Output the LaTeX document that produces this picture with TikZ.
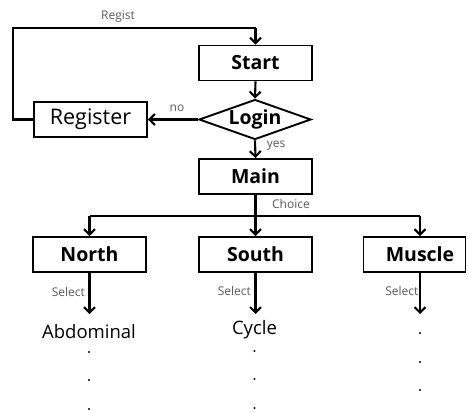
\documentclass[tikz,border=0pt]{standalone}
\usepackage{fontspec}
\setmainfont{Open Sans}
\usetikzlibrary{shapes.geometric,arrows.meta}
\begin{document}
\begin{tikzpicture}[x=1pt,y=-1pt,
  box/.style={draw,line width=1.9pt,minimum width=113pt,minimum height=35pt,inner sep=0pt,font=\fontsize{19.5}{19.5}\selectfont\bfseries},
  conn/.style={line width=2.1pt,-{Straight Barb[length=5.5pt,width=11pt,line width=2.1pt]}},
  plain/.style={line width=2.1pt},
  lbl/.style={font=\fontsize{12}{12}\selectfont,text=black!65,inner sep=0pt},
  item/.style={font=\fontsize{18.5}{18.5}\selectfont,inner sep=0pt}]
\useasboundingbox (0,0) rectangle (468,412);
\node[box] (start) at (255.5,63) {Start};
\node[draw,diamond,aspect=2.8,line width=1.9pt,minimum width=112pt,minimum height=40pt,inner sep=0pt,font=\fontsize{19.5}{19.5}\selectfont\bfseries] (login) at (255,119.5) {Login};
\node[box,font=\fontsize{21.5}{21.5}\selectfont] (reg) at (90.5,119.5) {Register};
\node[box] (main) at (255.5,176.5) {Main};
\node[box] (north) at (89.5,254.5) {North};
\node[box] (south) at (255.5,254.5) {South};
\node[box,minimum width=102pt] (muscle) at (414.5,254.5) {\hspace*{11pt}Muscle};
\coordinate (tl) at (13,28);
\coordinate (bl) at (13,119.5);
\coordinate (tr) at (255.5,28);
\draw[plain] (reg.west) -- (bl) -- (tl) -- (tr);
\draw[conn] (tr) -- (start.north);
\node[lbl] (regist) at (118,17) {Regist};
\draw[conn] (start.south) -- (login.north);
\draw[conn] (login.west) -- (reg.east);
\node[lbl] (no) at (177,108) {no};
\draw[conn] (login.south) -- (main.north);
\node[lbl] (yes) at (276,146) {yes};
\coordinate (hm) at (255.5,216);
\coordinate (hl) at (89.5,216);
\coordinate (hr) at (420,216);
\draw[plain] (main.south) -- (hm);
\draw[plain] (hl) -- (hr);
\node[lbl] (choice) at (291,204) {Choice};
\draw[conn] (hl) -- (north.north);
\draw[conn] (hm) -- (south.north);
\draw[conn] (hr) -- (hr |- muscle.north);
\node[item] (abd) at (89,332) {Abdominal};
\node[item] (cyc) at (254.5,330) {Cycle};
\coordinate (n1) at (89.5,314);
\coordinate (c1) at (255.5,314);
\coordinate (m1) at (420,314);
\draw[conn] (north.south) -- (n1);
\draw[conn] (south.south) -- (c1);
\draw[conn] (hr |- muscle.south) -- (m1);
\node[lbl,anchor=east] (s1) at (85,292) {Select};
\node[lbl,anchor=east] (s2) at (251,291) {Select};
\node[lbl,anchor=east] (s3) at (418.5,291) {Select};
\foreach \y in {352,380,409} \fill (89,\y) circle (1.1pt);
\foreach \y in {351,379,408} \fill (254.5,\y) circle (1.1pt);
\foreach \y in {333,362,390} \fill (420,\y) circle (1.1pt);
\end{tikzpicture}
\end{document}
